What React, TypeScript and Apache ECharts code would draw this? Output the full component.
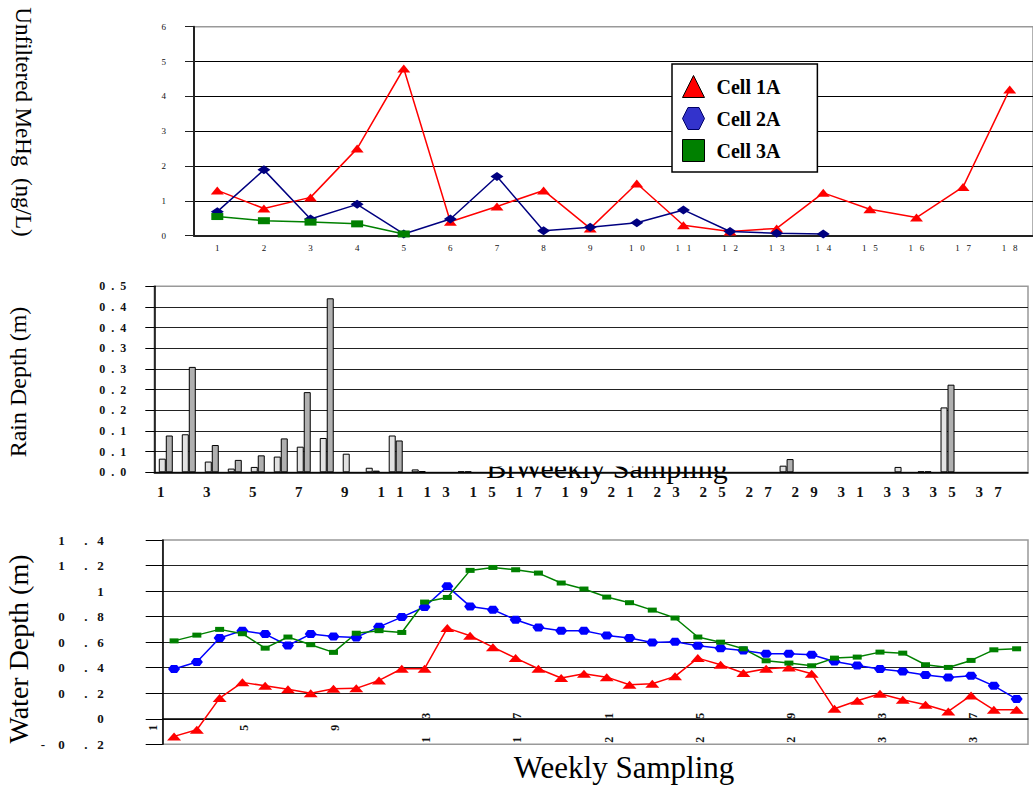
import React, { useEffect, useRef } from 'react';
import * as echarts from 'echarts';

// ---------- DATA ----------
const mehgSamples = ['1','2','3','4','5','6','7','8','9','10','11','12','13','14','15','16','17','18'];
const mehgCell1A = [1.3, 0.78, 1.1, 2.5, 4.8, 0.4, 0.84, 1.3, 0.21, 1.5, 0.3, 0.12, 0.21, 1.23, 0.76, 0.52, 1.4, 4.2];
const mehgCell2A = [0.69, 1.89, 0.48, 0.9, 0.05, 0.48, 1.7, 0.14, 0.24, 0.37, 0.74, 0.12, 0.07, 0.05, null, null, null, null];
const mehgCell3A = [0.55, 0.43, 0.39, 0.34, 0.05, null, null, null, null, null, null, null, null, null, null, null, null, null];

const rainWeeks = Array.from({ length: 38 }, (_, i) => String(i + 1));
const rainA = [0.033, 0.092, 0.026, 0.009, 0.013, 0.038, 0.062, 0.083, 0.045, 0.011, 0.089, 0.007, null, 0.002,
  null, null, null, null, null, null, null, null, null, null, null, null, null, 0.016, null, null, null, null, 0.013, 0.002, 0.157, null, null, null];
const rainB = [0.089, 0.255, 0.066, 0.030, 0.041, 0.082, 0.194, 0.421, null, 0.004, 0.077, 0.003, null, 0.002,
  null, null, null, null, null, null, null, null, null, null, null, null, null, 0.032, null, null, null, null, null, 0.002, 0.212, null, null, null];

const waterWeeks = Array.from({ length: 38 }, (_, i) => String(i + 1));
const waterCell1A = [-0.138, -0.086, 0.162, 0.285, 0.258, 0.232, 0.2, 0.235, 0.238, 0.3, 0.392, 0.392, 0.71, 0.65, 0.561, 0.475, 0.392, 0.319, 0.352, 0.326, 0.266, 0.274, 0.332, 0.475, 0.423, 0.358, 0.392, 0.402, 0.352, 0.078, 0.141, 0.196, 0.149, 0.11, 0.057, 0.183, 0.07, 0.07];
const waterCell2A = [0.39, 0.444, 0.632, 0.69, 0.663, 0.574, 0.663, 0.645, 0.637, 0.72, 0.796, 0.875, 1.037, 0.88, 0.854, 0.775, 0.715, 0.689, 0.689, 0.653, 0.632, 0.598, 0.603, 0.572, 0.553, 0.535, 0.509, 0.509, 0.501, 0.449, 0.418, 0.389, 0.371, 0.342, 0.324, 0.337, 0.258, 0.154];
const waterCell3A = [0.61, 0.655, 0.7, 0.666, 0.553, 0.64, 0.58, 0.52, 0.67, 0.69, 0.676, 0.914, 0.95, 1.162, 1.185, 1.167, 1.141, 1.063, 1.016, 0.953, 0.909, 0.851, 0.789, 0.64, 0.6, 0.548, 0.454, 0.436, 0.415, 0.475, 0.483, 0.522, 0.514, 0.423, 0.402, 0.457, 0.54, 0.548];
const waterLabelStep = 4;

const legendNames = ['Cell 1A', 'Cell 2A', 'Cell 3A'];

// ---------- HELPERS ----------
const FONT = 'Liberation Serif';
const nb = (n: number) => '\u00a0'.repeat(n);
const spaced = (s: string, n: number) => s.split('').join(nb(n));
const HEX = 'path://M0,10 L5,0 L15,0 L20,10 L15,20 L5,20 Z';

const rainLabel = (v: number) => {
  const r = Math.round(v * 10 + 1e-6) / 10;
  const s = r.toFixed(1);
  return s[0] + nb(2) + '.' + nb(2) + s[2];
};
const waterLabel = (v: number) => {
  const r = Math.round(v * 10) / 10;
  if (Math.abs(r) < 1e-9) return '0';
  const neg = r < 0;
  const a = Math.abs(r);
  const ip = Math.floor(a + 1e-9);
  const dp = Math.round((a - ip) * 10);
  if (dp === 0) return String(ip);
  return (neg ? '-' + nb(4) : '') + ip + nb(6) + '.' + nb(3) + dp;
};

export default function App() {
  const ref = useRef<HTMLDivElement>(null);
  useEffect(() => {
    const chart = echarts.init(ref.current!, null, { renderer: 'svg' });
    const axisTxt = { fontFamily: FONT, color: '#111' };
    const baseGraphic: any[] = [
      {
        type: 'text', x: 23, y: 122, rotation: -Math.PI / 2, z: 10,
        style: { text: 'Unfiltered MeHg\u00a0\u00a0(ng/L)', fontFamily: FONT, fontSize: 23, fill: '#000', align: 'center', verticalAlign: 'middle' },
      },
      {
        type: 'text', x: 18, y: 382, rotation: Math.PI / 2, z: 10,
        style: { text: 'Rain Depth (m)', fontFamily: FONT, fontSize: 24, fill: '#000', align: 'center', verticalAlign: 'middle' },
      },
      {
        type: 'text', x: 18, y: 649, rotation: Math.PI / 2, z: 10,
        style: { text: 'Water Depth (m)', fontFamily: FONT, fontSize: 28, fill: '#000', align: 'center', verticalAlign: 'middle' },
      },
      {
        type: 'text', x: 607, y: 467, z: 1,
        style: { text: 'BiWeekly Sampling', fontFamily: FONT, fontSize: 30, fill: '#000', align: 'center', verticalAlign: 'middle' },
      },
      {
        type: 'rect', z: 2, z2: 50, shape: { x: 156, y: 287.5, width: 870, height: 179 }, style: { fill: '#fff' },
      },
      {
        type: 'text', x: 624, y: 767, z: 10,
        style: { text: 'Weekly Sampling', fontFamily: FONT, fontSize: 31, fill: '#000', align: 'center', verticalAlign: 'middle' },
      },
    ];
    const option: any = {
      animation: false,
      backgroundColor: '#fff',
      textStyle: { fontFamily: FONT },
      grid: [
        { left: 194, top: 26.7, width: 841.5, height: 209, show: true, borderColor: '#999', borderWidth: 1.5 },
        { left: 154.3, top: 286.3, width: 873.7, height: 186, show: true, borderColor: '#999', borderWidth: 1.5 },
        { left: 162.7, top: 540, width: 865.3, height: 204.3, show: true, borderColor: '#999', borderWidth: 1.5 },
      ],
      legend: {
        orient: 'vertical', left: 672, top: 64,
        itemWidth: 22, itemHeight: 22, itemGap: 9,
        padding: [11, 37, 10, 10],
        backgroundColor: '#fff', borderColor: '#000', borderWidth: 1.5,
        textStyle: { fontFamily: FONT, fontSize: 20, fontWeight: 'bold', color: '#000', padding: [0, 0, 0, 7] },
        data: [
          { name: legendNames[0], icon: 'triangle', itemStyle: { color: '#FF0000', borderColor: '#000', borderWidth: 1 } },
          { name: legendNames[1], icon: HEX, itemStyle: { color: '#3333CC', borderColor: '#000066', borderWidth: 1 } },
          { name: legendNames[2], icon: 'rect', itemStyle: { color: '#008000', borderColor: '#000', borderWidth: 1 } },
        ],
      },
      xAxis: [
        {
          type: 'category', gridIndex: 0, data: mehgSamples, boundaryGap: true,
          axisLine: { lineStyle: { color: '#222', width: 2 } },
          axisTick: { interval: 0, length: 4, lineStyle: { color: '#222' } },
          axisLabel: { interval: 0, margin: 8, fontSize: 9, ...axisTxt, formatter: (v: string) => spaced(v, 3) },
          z: 3,
        },
        {
          type: 'category', gridIndex: 1, data: rainWeeks, boundaryGap: true,
          axisLine: { lineStyle: { color: '#000', width: 1.5 } },
          axisTick: { interval: 0, length: 5, lineStyle: { color: '#000' } },
          axisLabel: { interval: 1, margin: 12, fontSize: 15, fontWeight: 'bold', ...axisTxt, padding: [0, 10, 0, 0], formatter: (v: string) => spaced(v, 3) },
          z: 3,
        },
        {
          type: 'category', gridIndex: 2, data: waterWeeks, boundaryGap: true,
          axisLine: { onZero: true, lineStyle: { color: '#000', width: 1.5 } },
          axisTick: { interval: 0, length: 4, lineStyle: { color: '#000' } },
          axisLabel: { show: false },
          z: 3,
        },
      ],
      yAxis: [
        {
          type: 'value', gridIndex: 0, min: 0, max: 6, interval: 1,
          axisLine: { show: true, lineStyle: { color: '#222', width: 2 } },
          axisTick: { show: true, length: 9, lineStyle: { color: '#222' } },
          axisLabel: { margin: 28, fontSize: 9, ...axisTxt },
          splitLine: { show: true, showMaxLine: false, lineStyle: { color: '#000', width: 1 } },
          z: 3,
        },
        {
          type: 'value', gridIndex: 1, min: 0, max: 0.45, interval: 0.05,
          axisLine: { show: true, lineStyle: { color: '#000', width: 1.5 } },
          axisTick: { show: true, length: 9, lineStyle: { color: '#000' } },
          axisLabel: { margin: 28, fontSize: 12, fontWeight: 'bold', ...axisTxt, formatter: rainLabel },
          splitLine: { show: true, showMaxLine: false, lineStyle: { color: '#222', width: 1 } },
          z: 3,
        },
        {
          type: 'value', gridIndex: 2, min: -0.2, max: 1.4, interval: 0.2,
          axisLine: { show: true, onZero: false, lineStyle: { color: '#000', width: 1.5 } },
          axisTick: { show: true, length: 17, lineStyle: { color: '#000' } },
          axisLabel: { margin: 59, fontSize: 13, fontWeight: 'bold', ...axisTxt, formatter: waterLabel },
          splitLine: { show: true, showMaxLine: false, showMinLine: false, lineStyle: { color: '#222', width: 1 } },
          z: 3,
        },
      ],
      series: [
        {
          name: legendNames[0], type: 'line', xAxisIndex: 0, yAxisIndex: 0, data: mehgCell1A,
          symbol: 'triangle', symbolSize: [13, 8], itemStyle: { color: '#FF0000' }, lineStyle: { color: '#FF0000', width: 1.5 }, z: 5,
        },
        {
          name: legendNames[1], type: 'line', xAxisIndex: 0, yAxisIndex: 0, data: mehgCell2A,
          symbol: 'diamond', symbolSize: [13, 9], itemStyle: { color: '#000080' }, lineStyle: { color: '#000080', width: 1.5 }, z: 5,
        },
        {
          name: legendNames[2], type: 'line', xAxisIndex: 0, yAxisIndex: 0, data: mehgCell3A,
          symbol: 'rect', symbolSize: [12, 7], itemStyle: { color: '#008000' }, lineStyle: { color: '#008000', width: 1.5 }, z: 5,
        },
        {
          name: 'Rain A', type: 'bar', xAxisIndex: 1, yAxisIndex: 1, data: rainA, barWidth: 7, barGap: '0%',
          itemStyle: { color: '#e2e2e2', borderColor: '#000', borderWidth: 1 }, z: 4,
        },
        {
          name: 'Rain B', type: 'bar', xAxisIndex: 1, yAxisIndex: 1, data: rainB, barWidth: 7, barGap: '0%',
          itemStyle: { color: '#b0b0b0', borderColor: '#000', borderWidth: 1 }, z: 4,
        },
        {
          name: 'Water Cell 1A', type: 'line', xAxisIndex: 2, yAxisIndex: 2, data: waterCell1A,
          symbol: 'triangle', symbolSize: [14, 8], itemStyle: { color: '#FF0000' }, lineStyle: { color: '#FF0000', width: 1.5 }, z: 5,
        },
        {
          name: 'Water Cell 2A', type: 'line', xAxisIndex: 2, yAxisIndex: 2, data: waterCell2A,
          symbol: HEX, symbolSize: [12, 8], itemStyle: { color: '#0000FF' }, lineStyle: { color: '#0000FF', width: 1.5 }, z: 5,
        },
        {
          name: 'Water Cell 3A', type: 'line', xAxisIndex: 2, yAxisIndex: 2, data: waterCell3A,
          symbol: 'rect', symbolSize: [9, 5], itemStyle: { color: '#008000' }, lineStyle: { color: '#008000', width: 1.5 }, z: 5,
        },
      ],
      graphic: baseGraphic,
    };
    chart.setOption(option);

    // Weekly-axis labels: rotated, placed through the axis scale (convertToPixel)
    const y0 = chart.convertToPixel({ yAxisIndex: 2 }, 0) as number;
    const weekLabels: any[] = [];
    waterWeeks.forEach((w, i) => {
      if (i % waterLabelStep !== 0) return;
      const x = chart.convertToPixel({ xAxisIndex: 2 }, w) as number;
      weekLabels.push({
        type: 'text', x: x - 21, y: y0 + 9, rotation: Math.PI / 2, z: 10,
        style: { text: spaced(w, 6), fontFamily: FONT, fontSize: 12, fontWeight: 'bold', fill: '#111', align: 'center', verticalAlign: 'middle' },
      });
    });
    chart.setOption({ graphic: [...baseGraphic, ...weekLabels] });
    return () => chart.dispose();
  }, []);
  return (
    <div
      ref={ref}
      style={{ position: 'fixed', left: 0, top: 0, width: 1033, height: 789, background: '#fff' }}
    />
  );
}
